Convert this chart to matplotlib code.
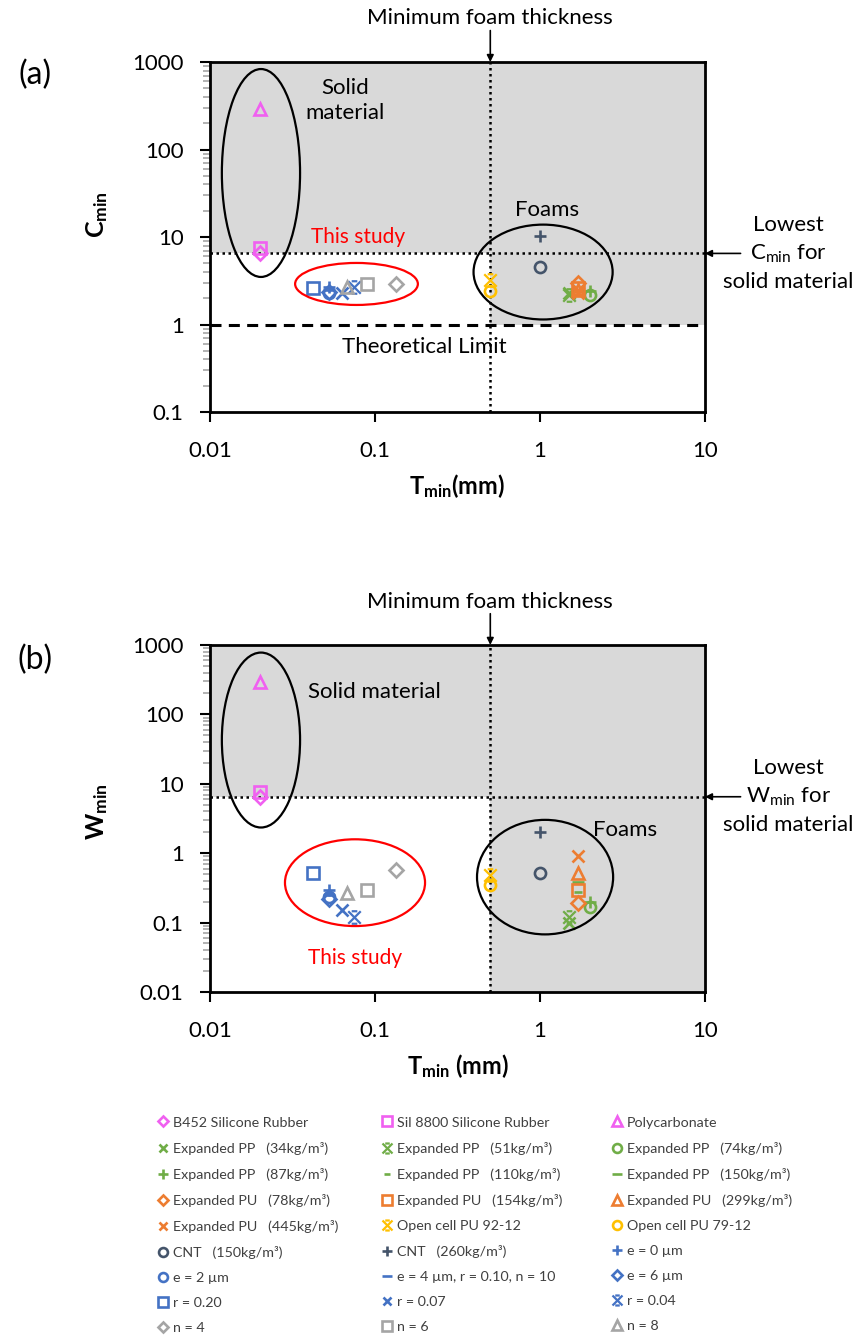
import math
import matplotlib
matplotlib.use("Agg")
import matplotlib.pyplot as plt
from matplotlib.patches import Ellipse
from matplotlib.path import Path
from matplotlib.ticker import LogLocator, NullLocator, FixedLocator, FixedFormatter
import matplotlib.transforms as mtransforms

plt.rcParams['font.family'] = ['Lato', 'DejaVu Sans']
plt.rcParams['mathtext.default'] = 'regular'

# Series (legend order)
labels = [
    "B452 Silicone Rubber", "Sil 8800 Silicone Rubber", "Polycarbonate",
    "Expanded PP   (34kg/m³)", "Expanded PP   (51kg/m³)", "Expanded PP   (74kg/m³)",
    "Expanded PP   (87kg/m³)", "Expanded PP   (110kg/m³)", "Expanded PP   (150kg/m³)",
    "Expanded PU   (78kg/m³)", "Expanded PU   (154kg/m³)", "Expanded PU   (299kg/m³)",
    "Expanded PU   (445kg/m³)", "Open cell PU 92-12", "Open cell PU 79-12",
    "CNT   (150kg/m³)", "CNT   (260kg/m³)", "e = 0 µm",
    "e = 2 µm", "e = 4 µm, r = 0.10, n = 10", "e = 6 µm",
    "r = 0.20", "r = 0.07", "r = 0.04",
    "n = 4", "n = 6", "n = 8",
]
# minimum thickness (mm)
t_min = [0.02, 0.02, 0.02,
         1.5, 1.5, 2.0,
         2.0, 1.7, 1.7,
         1.7, 1.7, 1.7,
         1.7, 0.5, 0.5,
         1.0, 1.0, 0.053,
         0.053, 0.053, 0.053,
         0.042, 0.063, 0.075,
         0.135, 0.09, 0.068]
# minimum C
c_min = [6.5, 7.5, 290,
         2.3, 2.2, 2.2,
         2.4, 2.4, 2.5,
         3.0, 2.6, 2.5,
         2.3, 3.2, 2.4,
         4.6, 10.2, 2.7,
         2.3, 2.5, 2.35,
         2.6, 2.3, 2.7,
         2.9, 2.9, 2.7]
# minimum W
w_min = [6.5, 7.6, 290,
         0.10, 0.12, 0.17,
         0.20, 0.28, 0.38,
         0.19, 0.29, 0.52,
         0.90, 0.48, 0.35,
         0.52, 2.0, 0.29,
         0.23, 0.25, 0.22,
         0.52, 0.15, 0.12,
         0.58, 0.29, 0.27]

# star marker: an x with short caps top and bottom
star = Path([(-1, -1), (1, 1), (-1, 1), (1, -1), (-0.45, 1), (0.45, 1), (-0.45, -1), (0.45, -1)],
            [Path.MOVETO, Path.LINETO] * 4)

MAG, GRN, ORG, YEL, CNT, BLU, GRY = '#F060F0', '#70AD47', '#ED7D31', '#FFC000', '#44546A', '#4472C4', '#A5A5A5'
colors = [MAG, MAG, MAG,
          GRN, GRN, GRN, GRN, GRN, GRN,
          ORG, ORG, ORG, ORG, YEL, YEL,
          CNT, CNT, BLU, BLU, BLU, BLU, BLU, BLU, BLU,
          GRY, GRY, GRY]
markers = ['D', 's', '^',
           'x', star, 'o', '+', '_', '_',
           'D', 's', '^', 'x', star, 'o',
           'o', '+', '+', 'o', '_', 'D', 's', 'x', star,
           'D', 's', '^']
sizes = {'D': 7, 's': 8.5, '^': 9, 'x': 8, 'o': 8, '+': 9, '_': 9}

GRAY_BG = '#D9D9D9'
solid_limit = min(c_min[:3])

fig = plt.figure(figsize=(8.62, 13.4), dpi=100)
ax_a = fig.add_axes([0.2436, 0.6925, 0.5742, 0.2612])
ax_b = fig.add_axes([0.2436, 0.2597, 0.5742, 0.2590])


def draw_panel(ax, yvals, ylo, ylab, xlab, ylab_y):
    handles = []
    for i in range(len(labels)):
        m = markers[i]
        ms = sizes.get(m, 8) if isinstance(m, str) else 9
        mew = 1.9 if isinstance(m, str) else 1.6
        if labels[i].endswith("(110kg/m³)"):
            ms = 6
        line, = ax.plot([t_min[i]], [yvals[i]], linestyle='none', marker=m, ms=ms,
                        mfc='none', mec=colors[i], mew=mew, label=labels[i], zorder=3)
        handles.append(line)

    ax.set_xscale('log')
    ax.set_yscale('log')
    ax.set_xlim(0.01, 10)
    ax.set_ylim(ylo, 1000)

    # shaded regions
    ax.axhspan(solid_limit, 1000, color=GRAY_BG, lw=0, zorder=0)
    ax.fill_between([0.5, 10], [ylo] * 2, [solid_limit] * 2,
                    color=GRAY_BG, lw=0, zorder=0)
    ax.axhline(solid_limit, color='black', ls=(0, (1, 1.4)), lw=1.8, zorder=1)
    ax.axvline(0.5, color='black', ls=(0, (1, 1.4)), lw=1.8, zorder=1)

    for s in ax.spines.values():
        s.set_linewidth(2)
    ax.xaxis.set_minor_locator(NullLocator())
    ax.yaxis.set_minor_locator(LogLocator(base=10, subs=range(2, 10)))
    ax.tick_params(axis='y', which='major', direction='out', length=7, width=1.5,
                   labelsize=16, pad=12)
    ax.tick_params(axis='y', which='minor', direction='out', length=5, width=1.2,
                   color='#A6A6A6')
    ax.tick_params(axis='x', which='major', direction='out', length=7, width=1.5,
                   labelsize=16, pad=14)
    ax.tick_params(right=False, top=False)
    xt = [0.01, 0.1, 1, 10]
    ax.xaxis.set_major_locator(FixedLocator(xt))
    ax.xaxis.set_major_formatter(FixedFormatter(['0.01', '0.1', '1', '10']))
    yt = [10 ** k for k in range(int(round(math.log10(ylo))), 4)]
    ax.yaxis.set_major_locator(FixedLocator(yt))
    ax.yaxis.set_major_formatter(FixedFormatter([('%g' % v) for v in yt]))

    ax.set_xlabel(xlab, fontsize=17, fontweight='bold')
    ax.xaxis.set_label_coords(0.5, -0.172)
    ax.set_ylabel(ylab, fontsize=18, fontweight='bold')
    ax.yaxis.set_label_coords(-0.202, ylab_y)

    # minimum foam thickness arrow
    tr = mtransforms.blended_transform_factory(ax.transData, ax.transAxes)
    ax.annotate('', xy=(0.5, 1.0), xycoords=tr, xytext=(0.5, 1.09), textcoords=tr,
                arrowprops=dict(arrowstyle='-|>', color='black', lw=1.2,
                                shrinkA=0, shrinkB=0, mutation_scale=10),
                annotation_clip=False)
    ax.text(0.5, 1.125, 'Minimum foam thickness', transform=tr, ha='center',
            va='center', fontsize=16)

    # lowest value for solid material arrow
    tr2 = mtransforms.blended_transform_factory(ax.transAxes, ax.transData)
    ax.annotate('', xy=(1.0, solid_limit), xycoords=tr2, xytext=(1.072, solid_limit),
                textcoords=tr2,
                arrowprops=dict(arrowstyle='-|>', color='black', lw=1.2,
                                shrinkA=0, shrinkB=0, mutation_scale=10),
                annotation_clip=False)
    ax.text(1.168, solid_limit, 'Lowest\n' + ylab + ' for\nsolid material', transform=tr2,
            ha='center', va='center', fontsize=16, linespacing=1.45)
    return handles


handles = draw_panel(ax_a, c_min, 0.1, 'C$_{min}$', 'T$_{min}$(mm)', 0.563)
draw_panel(ax_b, w_min, 0.01, 'W$_{min}$', 'T$_{min}$ (mm)', 0.519)

# theoretical limit in (a)
ax_a.fill_between([0.5, 10], [0.1, 0.1], [1, 1], color='white', lw=0, zorder=0.5)
ax_a.axhline(1, color='black', ls=(0, (3.6, 2.4)), lw=2.2, zorder=1)
ax_a.text(0.434, 0.186, 'Theoretical Limit', transform=ax_a.transAxes, ha='center',
          va='center', fontsize=16)

# ellipses and region labels
def ellipse(ax, cx, cy, w, h, color='black'):
    ax.add_patch(Ellipse((cx, cy), w, h, transform=ax.transAxes, fill=False,
                         edgecolor=color, lw=1.6, zorder=4))

ellipse(ax_a, 0.103, 0.683, 0.158, 0.594)
ellipse(ax_a, 0.296, 0.366, 0.248, 0.12, color='#FF0000')
ellipse(ax_a, 0.673, 0.40, 0.281, 0.271)
ax_a.text(0.273, 0.891, 'Solid\nmaterial', transform=ax_a.transAxes, ha='center',
          va='center', fontsize=16, linespacing=1.3)
ax_a.text(0.299, 0.50, 'This study', transform=ax_a.transAxes, ha='center',
          va='center', fontsize=15, color='#FF0000')
ax_a.text(0.681, 0.577, 'Foams', transform=ax_a.transAxes, ha='center',
          va='center', fontsize=16)

ellipse(ax_b, 0.103, 0.726, 0.158, 0.504)
ellipse(ax_b, 0.293, 0.315, 0.283, 0.25, color='#FF0000')
ellipse(ax_b, 0.677, 0.331, 0.275, 0.33)
ax_b.text(0.333, 0.865, 'Solid material', transform=ax_b.transAxes, ha='center',
          va='center', fontsize=16)
ax_b.text(0.293, 0.098, 'This study', transform=ax_b.transAxes, ha='center',
          va='center', fontsize=15, color='#FF0000')
ax_b.text(0.838, 0.467, 'Foams', transform=ax_b.transAxes, ha='center',
          va='center', fontsize=16)

fig.text(35 / 862, 1 - 75 / 1340, '(a)', fontsize=23, ha='center', va='center')
fig.text(35 / 862, 1 - 660 / 1340, '(b)', fontsize=23, ha='center', va='center')

# legend, three columns read row by row
col_x = [157 / 862, 381 / 862, 611 / 862]
for c in range(3):
    hs = handles[c::3]
    fig.legend(handles=hs, labels=[h.get_label() for h in hs],
               loc='upper left', bbox_to_anchor=(col_x[c], 0.1668),
               frameon=False, fontsize=10.3, handlelength=0.8, handletextpad=0.3,
               borderpad=0, borderaxespad=0, labelspacing=0.91,
               markerscale=0.8, labelcolor='#404040')

fig.savefig('out.png', dpi=100)
